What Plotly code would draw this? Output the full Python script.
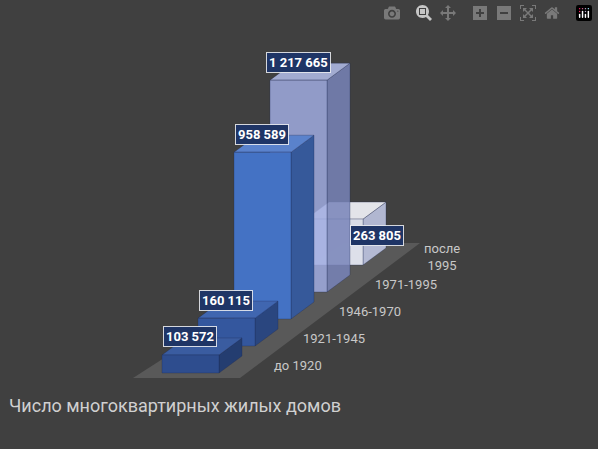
import plotly.graph_objects as go

categories = ["до 1920", "1921-1945", "1946-1970", "1971-1995", "после<br>1995"]
values = [103572, 160115, 958589, 1217665, 263805]
value_labels = ["103 572", "160 115", "958 589", "1 217 665", "263 805"]
title_text = "Число многоквартирных жилых домов"

front = ["#2e4d8e", "#34579e", "#4472c4", "rgba(160,172,225,0.85)", "rgba(235,238,250,0.9)"]
side = ["#243d70", "#2a467f", "#36599a", "rgba(120,132,185,0.85)", "rgba(190,196,225,0.9)"]
top = ["#3a5ca0", "#4066b0", "#5a82cc", "rgba(180,190,235,0.85)", "rgba(245,246,252,0.9)"]

K = 1.74e-4
X0, Y0 = 162, 373
STEP = (36, -27)
DEPTH = (23, -17)
W = 57

fig = go.Figure()

n = len(values)
fx0, fy0 = X0 - 29, Y0 + 5
fx1 = X0 + W + DEPTH[0] - 2
ex, ey = STEP[0] * n, STEP[1] * n
fig.add_trace(go.Scatter(x=[fx0, fx1, fx1 + ex, fx0 + ex + 30, fx0],
                         y=[fy0, fy0, fy0 + ey, fy0 + ey, fy0],
                         fill="toself", fillcolor="#595959", line=dict(width=0),
                         mode="lines", hoverinfo="skip"))

label_off = {4: (71, 16)}
for i in reversed(range(n)):
    x0 = X0 + STEP[0] * i
    yb = Y0 + STEP[1] * i
    h = values[i] * K
    yt = yb - h
    x1 = x0 + W
    dx, dy = DEPTH
    edge = dict(width=0.5, color="rgba(30,40,80,0.6)")
    fig.add_trace(go.Scatter(x=[x1, x1 + dx, x1 + dx, x1, x1], y=[yb, yb + dy, yt + dy, yt, yb],
                             fill="toself", fillcolor=side[i], line=edge, mode="lines", hoverinfo="skip"))
    fig.add_trace(go.Scatter(x=[x0, x1, x1 + dx, x0 + dx, x0], y=[yt, yt, yt + dy, yt + dy, yt],
                             fill="toself", fillcolor=top[i], line=edge, mode="lines", hoverinfo="skip"))
    fig.add_trace(go.Scatter(x=[x0, x1, x1, x0, x0], y=[yb, yb, yt, yt, yb],
                             fill="toself", fillcolor=front[i], line=edge, mode="lines", hoverinfo="skip"))
    ox, oy = label_off.get(i, (28, -18))
    fig.add_annotation(x=x0 + ox, y=yt + oy, text="<b>" + value_labels[i] + "</b>", showarrow=False,
                       font=dict(color="white", size=13, family="Roboto"), bgcolor="#1f3566",
                       bordercolor="rgba(255,255,255,0.8)", borderwidth=1, borderpad=2)
    fig.add_annotation(x=x0 + 136, y=yb - 8, text=categories[i], showarrow=False,
                       font=dict(color="#c8c8c8", size=13, family="Roboto"))

fig.add_annotation(x=7, y=405, text=title_text, showarrow=False, xanchor="left",
                   font=dict(color="#d0d0d0", size=18, family="Roboto"))

fig.update_layout(width=598, height=449, margin=dict(l=0, r=0, t=0, b=0),
                  paper_bgcolor="#404040", plot_bgcolor="#404040", showlegend=False,
                  xaxis=dict(range=[0, 598], visible=False),
                  yaxis=dict(range=[449, 0], visible=False))
fig.write_html("out.html")
with open("out.html", encoding="utf-8") as f:
    html = f.read()
html = html.replace("<body>", '<body style="margin:0;background:#404040;overflow:hidden">', 1)
with open("out.html", "w", encoding="utf-8") as f:
    f.write(html)
